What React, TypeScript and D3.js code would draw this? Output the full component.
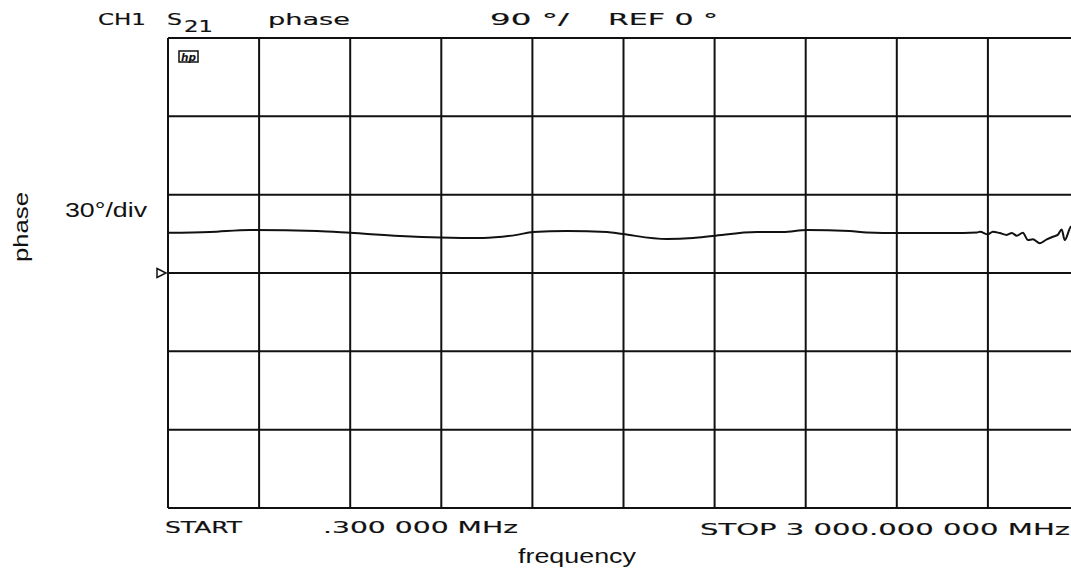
import React from "react";
import * as d3 from "d3";

// Frequency sweep (MHz) and measured S21 phase (degrees)
const freqMHz = [0.3, 138, 270, 491, 600, 764, 896, 1037, 1149, 1202, 1314, 1446, 1498, 1643, 1729, 1795, 1939, 2025, 2104, 2245, 2301, 2410, 2575, 2664, 2674, 2700, 2716, 2739, 2762, 2779, 2795, 2815, 2832, 2848, 2871, 2894, 2914, 2930, 2943, 2953, 2973, 3000];
const phaseDeg = [15.4, 15.7, 16.5, 16.1, 15.4, 14.2, 13.6, 13.4, 14.6, 15.7, 16.1, 15.7, 14.9, 13.0, 13.4, 14.2, 15.7, 15.7, 16.5, 16.1, 15.5, 15.3, 15.3, 15.5, 15.8, 14.8, 15.8, 15.3, 14.6, 15.3, 14.3, 15.4, 12.6, 12.9, 11.4, 12.9, 13.9, 14.6, 16.7, 12.6, 17.7, 18.8];

const phaseTicks = [-90, -60, -30, 0, 30, 60, 90];
const freqStart = 0.3;
const freqStop = 3000;
const freqDivisions = 10;
const refPhase = 0;

const W = 1071;
const H = 571;

export default function App() {
  const x = d3.scaleLinear().domain([freqStart, freqStop]).range([168, 1079]);
  const y = d3.scaleLinear().domain([-90, 90]).range([508, 38]);
  const freqGrid = d3.range(freqDivisions + 1).map((i) => freqStart + ((freqStop - freqStart) * i) / freqDivisions);
  const line = d3
    .line<number>()
    .x((_, i) => x(freqMHz[i]))
    .y((d) => y(d))
    .curve(d3.curveMonotoneX);

  const plot = { fontFamily: "DejaVu Sans", fontSize: 15, fill: "#111", stroke: "#111", strokeWidth: 0.15 } as const;
  const helv = { fontFamily: "Liberation Sans, Arial, sans-serif", fontSize: 21, fill: "#111" } as const;
  const yRef = y(refPhase);

  return (
    <svg width={W} height={H} style={{ position: "absolute", left: 0, top: 0, background: "#fff" }}>
      <rect x={0} y={0} width={W} height={H} fill="#fff" />
      {/* header */}
      <text x={98} y={25} textLength={48} lengthAdjust="spacingAndGlyphs" {...plot}>CH1</text>
      <text x={167} y={25} textLength={15} lengthAdjust="spacingAndGlyphs" {...plot}>S</text>
      <text x={184} y={32} textLength={29} lengthAdjust="spacingAndGlyphs" {...plot}>21</text>
      <text x={268} y={25} textLength={82} lengthAdjust="spacingAndGlyphs" {...plot}>phase</text>
      <text x={490} y={25} textLength={79} lengthAdjust="spacingAndGlyphs" {...plot}>90 °/</text>
      <text x={608} y={25} textLength={110} lengthAdjust="spacingAndGlyphs" {...plot}>REF 0 °</text>

      {/* grid */}
      <g stroke="#111" strokeWidth={2}>
        {phaseTicks.map((t) => (
          <line key={"h" + t} x1={x(freqStart)} x2={x(freqStop)} y1={y(t)} y2={y(t)} />
        ))}
        {freqGrid.map((f, i) => (
          <line key={"v" + i} x1={x(f)} x2={x(f)} y1={y(90)} y2={y(-90)} />
        ))}
      </g>

      {/* hp logo */}
      <g>
        <rect x={179} y={51} width={19} height={11} fill="none" stroke="#111" strokeWidth={1.5} />
        <text x={181} y={60.5} fontFamily="DejaVu Sans" fontSize={10} fontStyle="italic" fontWeight="bold" fill="#111" textLength={15} lengthAdjust="spacingAndGlyphs">hp</text>
      </g>

      {/* reference marker */}
      <path d={`M157,${yRef - 4.5} L166,${yRef} L157,${yRef + 4.5} Z`} fill="none" stroke="#111" strokeWidth={1.5} />

      {/* trace */}
      <path d={line(phaseDeg) || ""} fill="none" stroke="#111" strokeWidth={2} strokeLinejoin="round" />

      {/* footer */}
      <text x={165} y={533} textLength={77} lengthAdjust="spacingAndGlyphs" {...plot}>START</text>
      <text x={323} y={533} textLength={195} lengthAdjust="spacingAndGlyphs" {...plot}>.300 000 MHz</text>
      <text x={700} y={535} textLength={370} lengthAdjust="spacingAndGlyphs" {...plot}>STOP 3 000.000 000 MHz</text>

      {/* axis titles */}
      <text x={518} y={563} textLength={118} lengthAdjust="spacingAndGlyphs" {...helv}>frequency</text>
      <text x={65} y={217} textLength={82} lengthAdjust="spacingAndGlyphs" {...helv}>30°/div</text>
      <text transform="translate(28,227) rotate(-90)" textAnchor="middle" textLength={70} lengthAdjust="spacingAndGlyphs" {...helv}>phase</text>
    </svg>
  );
}
